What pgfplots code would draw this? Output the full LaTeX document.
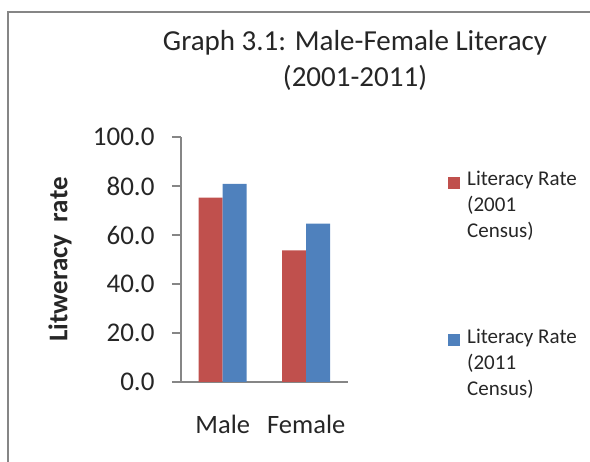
\documentclass[border=0pt]{standalone}
\usepackage{fontspec}
\setmainfont{Carlito}
\usepackage{pgfplots}
\pgfplotsset{compat=1.18}
\definecolor{cRed}{HTML}{C0504D}
\definecolor{cBlue}{HTML}{4F81BD}
\definecolor{cAxis}{HTML}{868686}
\definecolor{cTxt}{HTML}{262626}

\begin{document}
\begin{tikzpicture}[x=1pt,y=1pt]
\useasboundingbox (0,0) rectangle (590,462);
\draw[cAxis,line width=2pt] (8,-2) -- (8,450) -- (592,450);
\node[font=\fontsize{29}{36}\selectfont,align=center,text=cTxt] at (355,402)
  {Graph 3.1: Male-Female Literacy\\(2001-2011)};
\begin{axis}[at={(181pt,80pt)},anchor=south west,
  scale only axis,width=167pt,height=245pt,
  ybar=0pt,bar width=24pt,
  xmin=-0.5,xmax=1.5,ymin=0,ymax=100,
  xtick={0,1},xticklabels={Male,Female},
  ytick={0,20,...,100},
  yticklabel={\pgfmathprintnumber[fixed,fixed zerofill,precision=1]{\tick}},
  /pgf/number format/assume math mode=true,
  axis x line*=bottom,axis y line*=left,
  axis line style={cAxis,line width=2pt},
  tick align=outside,major tick length=9pt,
  y tick style={cAxis,line width=2pt},
  x tick style={draw=none},
  yticklabel style={font=\fontsize{27}{30}\selectfont,text=cTxt,xshift=-14pt},
  xticklabel style={font=\fontsize{26.5}{30}\selectfont,text=cTxt,yshift=-21pt},
  ylabel={Litweracy\ \ rate},
  ylabel style={at={(axis description cs:-0.725,0.5)},anchor=center,
    font=\fontsize{27}{30}\selectfont\bfseries,text=cTxt},
  legend style={at={(axis description cs:1.599,0.87)},anchor=north west,
    draw=none,fill=none,inner sep=0pt,row sep=86pt,
    font=\fontsize{21}{26}\selectfont,text=cTxt,
    cells={align=left,anchor=west}},
  legend image code/.code={\fill[#1] (0pt,16.5pt) rectangle (12pt,28.5pt);
    \path[draw=none,fill=none] (0pt,0pt) rectangle (17pt,1pt);},
  clip=false]
\addplot[fill=cRed,draw=none] coordinates {(0,75.3) (1,53.7)};
\addplot[fill=cBlue,draw=none] coordinates {(0,80.9) (1,64.6)};
\legend{{Literacy Rate\\(2001\\Census)},{Literacy Rate\\(2011\\Census)}}
\end{axis}
\end{tikzpicture}
\end{document}
